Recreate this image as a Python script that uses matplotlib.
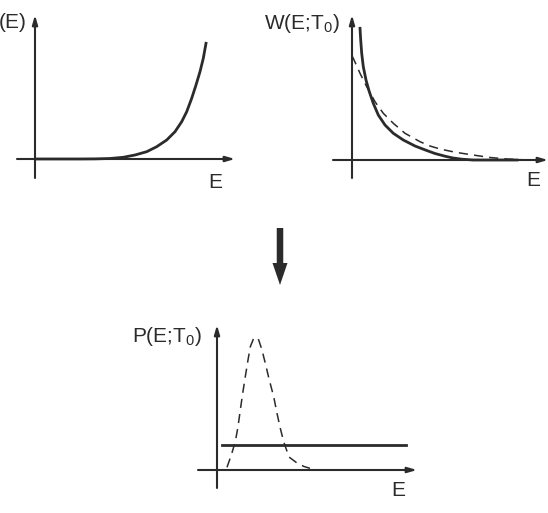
import numpy as np
import matplotlib.pyplot as plt
from matplotlib.patches import FancyArrow

plt.rcParams['font.family'] = ['Liberation Sans', 'DejaVu Sans']
plt.rcParams['mathtext.fontset'] = 'custom'
plt.rcParams['mathtext.rm'] = 'Liberation Sans'

INK = '#2b2b2b'

# ---- panel 1: density of states, rising curve ----
e_rho = [0.2, 2.5, 4.5, 6.0, 7.5, 8.83, 10.0, 11.17, 12.17, 13.17, 14.0, 14.67,
         15.17, 15.67, 16.1, 16.5, 16.83, 17.1]
rho = [0.0, 0.0, 0.0, 0.01, 0.05, 0.17, 0.4, 0.73, 1.23, 1.9, 2.73, 3.73,
       4.73, 6.07, 7.4, 8.73, 10.07, 11.57]

# ---- panel 2: weight W(E;T0), solid and dashed decays ----
e_w_solid = [0.8, 0.87, 0.97, 1.13, 1.4, 1.73, 2.13, 2.63, 3.3, 4.13, 5.13, 6.3,
             7.47, 8.3, 9.3, 10.1, 11.0, 12.1, 16.5]
w_solid = [13.17, 12.0, 10.67, 9.33, 8.0, 6.83, 5.67, 4.5, 3.5, 2.67, 2.0, 1.4,
           0.95, 0.65, 0.38, 0.2, 0.08, 0.0, 0.0]
e_w_dash = [0.0, 0.13, 0.8, 1.47, 2.3, 3.13, 4.13, 5.3, 6.8, 7.8, 8.8, 10.3,
            12.1, 13.8, 15.5, 17.5]
w_dash = [10.4, 10.17, 8.67, 7.33, 5.83, 4.67, 3.67, 2.67, 1.83, 1.4, 1.1, 0.78,
          0.5, 0.25, 0.1, 0.0]

# ---- panel 3: P(E;T0), dashed peak and flat solid line ----
e_p_peak = [1.0, 1.43, 1.83, 2.1, 2.33, 2.57, 2.83, 3.1, 3.33, 3.67, 3.9, 4.17,
            4.5, 4.83, 5.23, 5.67, 6.0, 6.33, 6.67, 7.2, 8.0, 8.7, 9.3]
p_peak = [0.27, 1.5, 2.83, 4.33, 6.0, 7.67, 9.33, 11.0, 12.33, 13.17, 13.27, 13.0,
          12.0, 10.67, 9.0, 7.33, 5.67, 4.17, 2.83, 1.3, 0.7, 0.35, 0.17]
e_p_flat = [0.5, 18.9]
p_flat = [2.5, 2.5]

W, H = 548, 513
fig = plt.figure(figsize=(W / 100, H / 100), dpi=100)


def panel(px0, px1, py0, py1, xlim, ylim):
    # pixel box (top-left origin) -> figure fraction
    ax = fig.add_axes([px0 / W, (H - py1) / H, (px1 - px0) / W, (py1 - py0) / H])
    ax.set_xlim(*xlim)
    ax.set_ylim(*ylim)
    ax.axis('off')
    arrow = dict(arrowstyle='-|>,head_length=0.55,head_width=0.16', color=INK,
                 lw=1.5, shrinkA=0, shrinkB=0)
    ax.annotate('', xy=(xlim[1], 0), xytext=(xlim[0], 0), arrowprops=arrow)
    ax.annotate('', xy=(0, ylim[1]), xytext=(0, ylim[0]), arrowprops=arrow)
    return ax


fs = 15

ax1 = panel(17, 235, 15, 178, (-1.8, 20.0), (-1.9, 14.4))
ax1.plot(e_rho, rho, color=INK, lw=2.0)
ax1.text(-0.8, 13.7, '(E)', ha='right', va='center', fontsize=fs, color=INK, clip_on=False)
ax1.text(18.0, -2.4, 'E', ha='center', va='center', fontsize=fs, color=INK, clip_on=False)

ax2 = panel(333, 548, 15, 178, (-1.9, 19.6), (-1.8, 14.5))
ax2.plot(e_w_solid, w_solid, color=INK, lw=2.0)
ax2.plot(e_w_dash, w_dash, color=INK, lw=1.1, dashes=(6, 4))
ax2.text(-1.2, 13.6, r'W(E;T$_{0}$)', ha='right', va='center', fontsize=fs, color=INK,
         clip_on=False)
ax2.text(18.1, -2.1, 'E', ha='center', va='center', fontsize=fs, color=INK, clip_on=False)

ax3 = panel(198, 417, 325, 488, (-1.9, 20.0), (-1.8, 14.5))
ax3.plot(e_p_flat, p_flat, color=INK, lw=2.0)
ax3.plot(e_p_peak, p_peak, color=INK, lw=1.1, dashes=(6, 4))
ax3.text(-1.5, 13.4, r'P(E;T$_{0}$)', ha='right', va='center', fontsize=fs, color=INK,
         clip_on=False)
ax3.text(18.1, -2.0, 'E', ha='center', va='center', fontsize=fs, color=INK, clip_on=False)

# big downward arrow between rows
axa = fig.add_axes([260 / W, (H - 290) / H, 40 / W, 65 / H])
axa.set_xlim(0, 40)
axa.set_ylim(0, 65)
axa.axis('off')
axa.add_patch(FancyArrow(20, 62, 0, -57, width=6.5, head_width=15, head_length=22,
                         length_includes_head=True, color=INK, lw=0))

fig.savefig('out.png', dpi=100)
